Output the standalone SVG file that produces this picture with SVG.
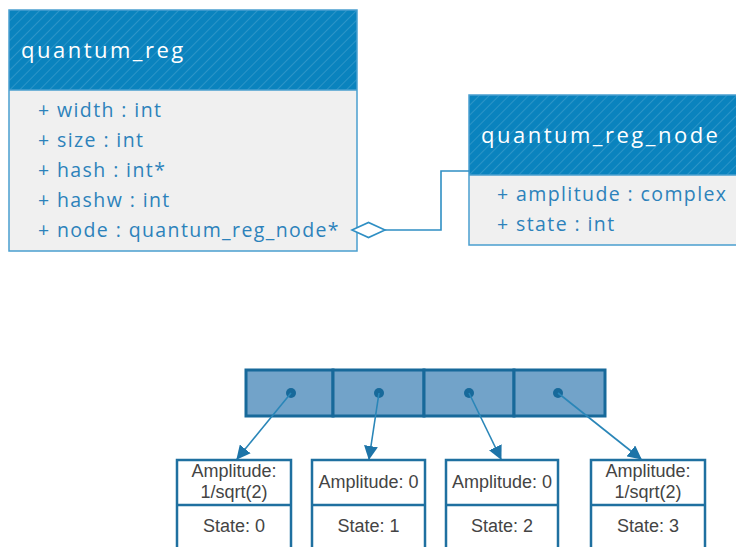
<svg xmlns="http://www.w3.org/2000/svg" width="736" height="547" viewBox="0 0 736 547">
<style>
.hdr{fill:#0a83be}
.hatch{fill:url(#hatch)}
.body{fill:#f0f0f0}
.frame{fill:none;stroke:#4a9fcf;stroke-width:1.5}
.title{font-family:"Open Sans","DejaVu Sans",sans-serif;font-size:22px;letter-spacing:2.5px;fill:#ffffff}
.attr{font-family:"Open Sans","DejaVu Sans",sans-serif;font-size:19.5px;letter-spacing:1.4px;fill:#2c82bb}
.conn{fill:none;stroke:#2f8fc4;stroke-width:1.6}
.cell{fill:#72a3c9;stroke:#17699a;stroke-width:3}
.dot{fill:#17699a}
.ptr{fill:none;stroke:#2a86b8;stroke-width:1.6}
.box{fill:#ffffff;stroke:#1f70a0;stroke-width:2.5}
.lbl{font-family:"Liberation Sans",Arial,sans-serif;font-size:18px;fill:#444444;text-anchor:middle}
</style>
<defs>
<pattern id="hatch" patternUnits="userSpaceOnUse" width="7" height="7" patternTransform="rotate(45)">
<line x1="0" y1="0" x2="0" y2="7" stroke="#ffffff" stroke-opacity="0.28" stroke-width="1"/>
</pattern>
<marker id="arr" viewBox="0 0 14 14" refX="13" refY="7" markerWidth="14" markerHeight="14" markerUnits="userSpaceOnUse" orient="auto">
<path d="M0,0 L14,7 L0,14 Z" fill="#1d74a8"/>
</marker>
</defs>

<g id="quantum_reg">
<rect class="hdr" x="9" y="10" width="348" height="80"/>
<rect class="hatch" x="9" y="10" width="348" height="80"/>
<rect class="body" x="9" y="90" width="348" height="161"/>
<rect class="frame" x="9" y="10" width="348" height="241"/>
<line class="frame" x1="9" y1="90" x2="357" y2="90"/>
<text class="title" x="21" y="58">quantum_reg</text>
<text class="attr" x="38" y="117">+ width : int</text>
<text class="attr" x="38" y="147">+ size : int</text>
<text class="attr" x="38" y="177">+ hash : int*</text>
<text class="attr" x="38" y="207">+ hashw : int</text>
<text class="attr" x="38" y="237">+ node : quantum_reg_node*</text>
</g>

<g id="quantum_reg_node">
<rect class="hdr" x="469" y="95" width="280" height="80"/>
<rect class="hatch" x="469" y="95" width="280" height="80"/>
<rect class="body" x="469" y="175" width="280" height="70"/>
<rect class="frame" x="469" y="95" width="280" height="150"/>
<line class="frame" x1="469" y1="175" x2="749" y2="175"/>
<text class="title" x="481" y="143">quantum_reg_node</text>
<text class="attr" x="497" y="201">+ amplitude : complex</text>
<text class="attr" x="497" y="231">+ state : int</text>
</g>

<g id="array">
<rect class="cell" x="246" y="370" width="87" height="46"/>
<rect class="cell" x="333" y="370" width="91" height="46"/>
<rect class="cell" x="424" y="370" width="90" height="46"/>
<rect class="cell" x="514" y="370" width="91" height="46"/>
<circle class="dot" cx="291" cy="393" r="5"/>
<circle class="dot" cx="379" cy="393" r="5"/>
<circle class="dot" cx="469" cy="393" r="5"/>
<circle class="dot" cx="558" cy="393" r="5"/>
</g>

<g id="node0">
<rect class="box" x="177" y="460" width="114" height="100"/>
<line class="box" x1="177" y1="505" x2="291" y2="505"/>
<text class="lbl" x="234" y="477">Amplitude:</text>
<text class="lbl" x="234" y="498">1/sqrt(2)</text>
<text class="lbl" x="234" y="532">State: 0</text>
</g>
<g id="node1">
<rect class="box" x="312" y="460" width="113" height="100"/>
<line class="box" x1="312" y1="505" x2="425" y2="505"/>
<text class="lbl" x="368.5" y="488">Amplitude: 0</text>
<text class="lbl" x="368.5" y="532">State: 1</text>
</g>
<g id="node2">
<rect class="box" x="446" y="460" width="112" height="100"/>
<line class="box" x1="446" y1="505" x2="558" y2="505"/>
<text class="lbl" x="502" y="488">Amplitude: 0</text>
<text class="lbl" x="502" y="532">State: 2</text>
</g>
<g id="node3">
<rect class="box" x="591" y="460" width="114" height="100"/>
<line class="box" x1="591" y1="505" x2="705" y2="505"/>
<text class="lbl" x="648" y="477">Amplitude:</text>
<text class="lbl" x="648" y="498">1/sqrt(2)</text>
<text class="lbl" x="648" y="532">State: 3</text>
</g>

<g id="connectors">
<path class="conn" d="M385,230 H441 V171 H469"/>
<path d="M352,230 L368.5,222.5 L385,230 L368.5,237.5 Z" fill="#ffffff" stroke="#2f8fc4" stroke-width="1.6"/>
<line class="ptr" x1="291" y1="393" x2="237" y2="459" marker-end="url(#arr)"/>
<line class="ptr" x1="379" y1="393" x2="369" y2="459" marker-end="url(#arr)"/>
<line class="ptr" x1="469" y1="393" x2="501" y2="459" marker-end="url(#arr)"/>
<line class="ptr" x1="558" y1="393" x2="641" y2="459" marker-end="url(#arr)"/>
</g>
</svg>
